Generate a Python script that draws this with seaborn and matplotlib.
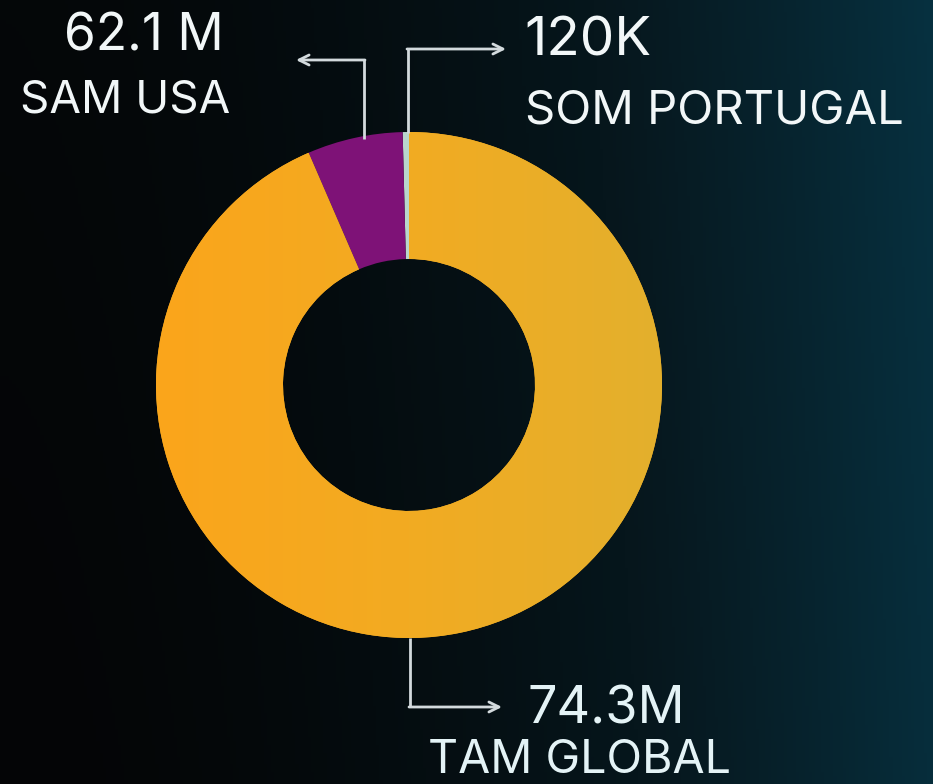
import numpy as np
import matplotlib
matplotlib.use("Agg")
import matplotlib.pyplot as plt
import seaborn as sns
from matplotlib.colors import LinearSegmentedColormap

segments = ["SOM PORTUGAL", "SAM USA", "TAM GLOBAL"]
values = ["120K", "62.1 M", "74.3M"]
shares = [0.4, 6.1, 93.5]
colors = ["#b9d6cc", "#7e1277", "#f2aa22"]

sns.set_theme(style="white")
plt.rcParams["font.family"] = ["Inter", "DejaVu Sans"]

W, H = 933, 784
fig = plt.figure(figsize=(W / 100, H / 100), dpi=100)

# background gradient, black on the left to dark teal on the right
bg = fig.add_axes([0, 0, 1, 1])
xx = np.linspace(0, 1, 300)
yy = np.linspace(0, 1, 200)
gx, gy = np.meshgrid(xx, yy)
grad = np.clip(gx ** 1.7 * 0.95 + (1 - gy) * 0.06, 0, 1)
bg_cmap = LinearSegmentedColormap.from_list("bg", ["#040506", "#06161c", "#06303f"])
bg.imshow(grad, cmap=bg_cmap, aspect="auto", extent=[0, 1, 0, 1], origin="upper")
bg.axis("off")

ax = fig.add_axes([0, 0, 1, 1])
ax.set_xlim(0, W)
ax.set_ylim(0, H)
ax.set_aspect("equal")
ax.axis("off")

cx, cy, R = 409, H - 385, 253
wedges, _ = ax.pie(shares, colors=colors, startangle=90, counterclock=True,
                   center=(cx, cy), radius=R,
                   wedgeprops=dict(width=127, linewidth=0))

# orange ring has a soft left-to-right tint
ring = wedges[2]
ring_cmap = LinearSegmentedColormap.from_list("ring", ["#fba51b", "#f2ab22", "#e3b02d"])
img = ax.imshow(np.linspace(0, 1, 256)[None, :], cmap=ring_cmap, aspect="auto",
                extent=[cx - R, cx + R, cy - R, cy + R], zorder=1.5)
img.set_clip_path(ring)
ax.set_xlim(0, W)
ax.set_ylim(0, H)

line_c = "#d3dadd"
arrow = dict(arrowstyle="->", color=line_c, lw=2, mutation_scale=18, shrinkA=0, shrinkB=0)

# SAM arrow
ax.plot([364, 364], [H - 139, H - 60], color=line_c, lw=2, solid_capstyle="butt")
ax.annotate("", xy=(296, H - 60), xytext=(365, H - 60), arrowprops=arrow)
# SOM arrow
ax.plot([408, 408], [H - 133, H - 49], color=line_c, lw=2, solid_capstyle="butt")
ax.annotate("", xy=(506, H - 49), xytext=(407, H - 49), arrowprops=arrow)
# TAM arrow
ax.plot([410, 410], [H - 638, H - 707], color=line_c, lw=2, solid_capstyle="butt")
ax.annotate("", xy=(502, H - 707), xytext=(409, H - 707), arrowprops=arrow)

txt = "#f2f7f8"
txt2 = "#e4f3f6"
ax.text(64, H - 50, values[1], color=txt, fontsize=37, ha="left", va="baseline")
ax.text(20, H - 112, segments[1], color=txt, fontsize=33, ha="left", va="baseline")
ax.text(524, H - 55, values[0], color=txt, fontsize=39.5, ha="left", va="baseline")
ax.text(525, H - 123, segments[0], color=txt, fontsize=34, ha="left", va="baseline")
ax.text(528, H - 724, values[2], color=txt2, fontsize=37.5, ha="left", va="baseline")
ax.text(428, 1, segments[2], color=txt2, fontsize=33.5, ha="left", va="bottom")

fig.savefig("out.png", dpi=100, facecolor="#040506")
